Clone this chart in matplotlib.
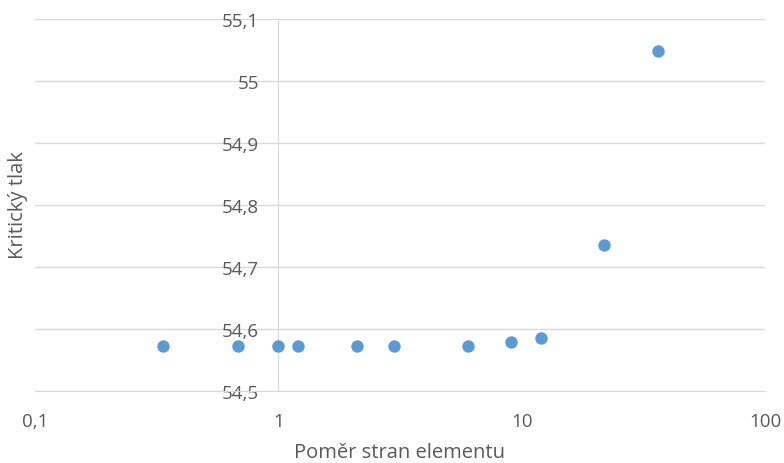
import matplotlib.pyplot as plt
from matplotlib.ticker import FixedLocator, FuncFormatter

# data
pomer = [0.337, 0.68, 1.0, 1.2, 2.1, 3.0, 6.0, 9.0, 12.0, 21.7, 36.5]
tlak = [54.573, 54.573, 54.573, 54.573, 54.573, 54.573, 54.573, 54.579, 54.585, 54.735, 55.048]

y_ticks = [54.5, 54.6, 54.7, 54.8, 54.9, 55.0, 55.1]
x_ticks = [0.1, 1, 10, 100]

plt.rcParams['font.family'] = ['Open Sans', 'DejaVu Sans']
seda = '#595959'
mrizka = '#D9D9D9'

fig = plt.figure(figsize=(7.84, 4.64), dpi=100)
ax = fig.add_axes([35 / 784, 72 / 464, 730 / 784, 372 / 464])

ax.scatter(pomer, tlak, s=80, color='#5B9BD5', zorder=3, linewidths=0)

ax.set_xscale('log')
ax.set_xlim(0.1, 100)
ax.set_ylim(54.5, 55.1)

ax.yaxis.set_major_locator(FixedLocator(y_ticks))
ax.yaxis.set_major_formatter(FuncFormatter(lambda v, p: f'{v:g}'.replace('.', ',')))
ax.xaxis.set_major_locator(FixedLocator(x_ticks))
ax.xaxis.set_minor_locator(FixedLocator([]))
ax.xaxis.set_major_formatter(FuncFormatter(lambda v, p: f'{v:g}'.replace('.', ',')))

ax.grid(axis='y', color=mrizka, linewidth=1)
ax.set_axisbelow(True)

# svislá osa protíná v bodě 1
ax.spines['left'].set_position(('data', 1))
ax.spines['left'].set_color(mrizka)
ax.spines['bottom'].set_color(mrizka)
ax.spines['top'].set_visible(False)
ax.spines['right'].set_visible(False)

ax.tick_params(axis='y', length=0, pad=14, labelsize=13.5, labelcolor=seda)
ax.tick_params(axis='x', length=0, pad=15, labelsize=13.5, labelcolor=seda)

fig.text(400 / 784, 1 - 453 / 464, 'Poměr stran elementu', ha='center', va='center',
         fontsize=14.5, color=seda)
fig.text(18 / 784, 1 - 205 / 464, 'Kritický tlak', ha='center', va='center',
         rotation=90, fontsize=14.5, color=seda)

fig.savefig('out.png', dpi=100)
